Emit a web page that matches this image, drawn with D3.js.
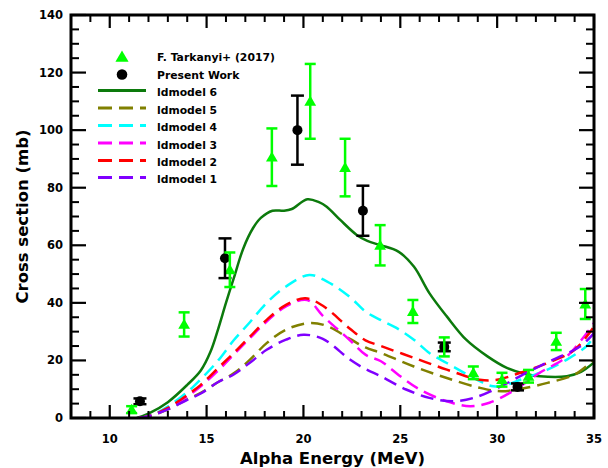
<!DOCTYPE html>
<html>
<head>
<meta charset="utf-8">
<script src="https://cdn.jsdelivr.net/npm/d3@7"></script>
<style>
  html, body { margin: 0; padding: 0; background: #fff; }
  svg { display: block; font-family: "DejaVu Sans", sans-serif; font-weight: bold; }
</style>
</head>
<body>
<div id="chart"></div>
<script>
// F. Tarkanyi+ (2017)
const tarkE   = [11.13, 13.84, 16.2, 18.37, 20.35, 22.15, 23.96, 25.65, 27.27, 28.77, 30.25, 31.62, 33.05, 34.55];
const tarkY   = [2.9, 32.5, 51.5, 90.6, 110, 87, 60, 37, 24.7, 15.7, 13.3, 14.5, 26.6, 39.6];
const tarkErr = [1.2, 4.2, 6, 10, 13, 10, 7, 4, 3.3, 2.2, 2.4, 2.2, 3, 5.2];

// Present Work
const presE   = [11.56, 15.95, 19.69, 23.07, 27.27, 31.05];
const presY   = [5.8, 55.5, 100, 72, 24.7, 10.8];
const presErr = [1, 6.9, 12, 8.7, 1.5, 1.2];

// model curves [energy, cross section]
const ld6 = [[11.4,0],[12,1.5],[13,5.5],[14,11.5],[14.7,16.5],[15.2,23],[15.6,31],[16,40],[16.4,48.5],[16.9,59],
  [17.4,66],[17.8,69.5],[18.4,72],[19,72],[19.4,72.6],[20.2,76],[20.8,75],[21.2,73.4],[21.9,68.8],[22.75,63.6],[23.3,61.5],
  [24,60],[24.9,57.8],[25.7,52.6],[26.5,43.4],[27.4,35.3],[28.4,27.2],[29.5,21.4],[30.5,17.4],[31.4,15.4],
  [32.2,14.5],[33.6,14.5],[34.3,15.9],[35,19.3]];
const ld5 = [[11.5,0],[12.1,0.8],[13,3],[14,6.5],[14.7,8.7],[15.6,12.5],[16.4,15.5],[17.2,20],[18.1,26],[19.1,30.7],
  [20.3,33],[21.2,32],[22.4,27.5],[23.2,24.5],[24,22.6],[25.7,17.9],[27.4,13.9],[29.1,10.5],[30.2,9.3],[31.2,10.1],
  [32.6,12.2],[34,15.1],[35,20.3]];
const ld4 = [[11.5,0],[12.1,0.8],[13,4],[14,9],[14.7,13.5],[15.6,20],[16.4,27],[17.2,33],[18.1,40],[19.1,45.7],
  [20.3,49.7],[21.2,47.5],[22.4,42],[23.2,37],[24,34],[24.8,31.3],[25.7,27.2],[26.5,22.6],[27.4,19.1],[28.3,15.7],
  [29.1,12.8],[29.8,11],[30.5,11.6],[31.2,13.3],[32.6,16.8],[33.6,20.3],[34.6,24.9],[35,28.3]];
const ld3 = [[11.5,0],[12.1,0.8],[13,3.3],[14,7.5],[14.7,11],[15.6,16.5],[16.4,22],[17.2,27.5],[18.1,33.5],[19.1,38.8],
  [20.2,41],[21,35.5],[22.4,27],[23.2,22],[24,19.7],[25,14.5],[26,9.9],[27.4,5.8],[28.6,4.1],[29.6,5.3],[30.8,9.3],
  [32.2,15.7],[33.6,21.4],[35,33]];
const ld2 = [[11.5,0],[12.1,0.8],[13,3.5],[14,8],[14.7,11.5],[15.6,17.4],[16.4,22.6],[17.2,28],[18.1,34.1],[19.1,39.3],
  [20.1,41.6],[21,39],[22.4,31],[23.2,27],[24,25],[25.7,20.9],[27.4,16.8],[29.1,13.3],[30,13.3],[31.2,15.7],
  [32.6,19.1],[34,23.7],[35,31.8]];
const ld1 = [[11.5,0],[12.1,0.8],[13,3],[14,6.3],[14.7,8.5],[15.6,12.5],[16.4,15.1],[17.2,19],[18.1,23.7],[19.1,27.2],
  [20,28.9],[21,27.5],[22.4,20.3],[23.2,17],[24,14.5],[25.3,9.9],[26.5,7],[27.7,5.8],[28.8,7],[30.2,11],[31.5,15.7],
  [32.9,20.3],[34.3,24.9],[35,29.5]];

const modelNames  = ['ldmodel 6', 'ldmodel 5', 'ldmodel 4', 'ldmodel 3', 'ldmodel 2', 'ldmodel 1'];
const modelData   = [ld6, ld5, ld4, ld3, ld2, ld1];
const modelColors = ['#0c7a0c', '#808000', '#00ffff', '#ff00ff', '#ff0000', '#8000ff'];

const xTicks = [10, 15, 20, 25, 30, 35];
const yTicks = [0, 20, 40, 60, 80, 100, 120, 140];

(function(){
  const width = 608, height = 468;
  const margin = {top: 15, right: 14, bottom: 50, left: 71};
  const iw = width - margin.left - margin.right;
  const ih = height - margin.top - margin.bottom;

  const svg = d3.select('#chart').append('svg')
    .attr('width', width).attr('height', height);

  const x = d3.scaleLinear().domain([8, 35]).range([margin.left, margin.left + iw]);
  const y = d3.scaleLinear().domain([0, 140]).range([margin.top + ih, margin.top]);

  svg.append('defs').append('clipPath').attr('id', 'plot-clip')
    .append('rect').attr('x', margin.left).attr('y', margin.top).attr('width', iw).attr('height', ih);

  const plot = svg.append('g').attr('clip-path', 'url(#plot-clip)');

  // model curves (drawn 6 -> 1)
  const line = d3.line().x(d => x(d[0])).y(d => y(d[1])).curve(d3.curveCatmullRom.alpha(0.5));
  modelData.forEach((data, i) => {
    plot.append('path').datum(data)
      .attr('d', line)
      .attr('fill', 'none')
      .attr('stroke', modelColors[i])
      .attr('stroke-width', 2.5)
      .attr('stroke-dasharray', i === 0 ? null : '13,7');
  });

  const tri = d3.symbol().type(d3.symbolTriangle).size(60);
  const capW = 5.5;

  function errBars(g, E, Y, err, color, cap) {
    E.forEach((e, i) => {
      const cx = x(e), y0 = y(Y[i] - err[i]), y1 = y(Y[i] + err[i]);
      g.append('line').attr('x1', cx).attr('x2', cx).attr('y1', y0).attr('y2', y1)
        .attr('stroke', color).attr('stroke-width', 2.5);
      [y0, y1].forEach(yy => g.append('line')
        .attr('x1', cx - cap).attr('x2', cx + cap).attr('y1', yy).attr('y2', yy)
        .attr('stroke', color).attr('stroke-width', 2.5));
    });
  }

  // Tarkanyi markers
  plot.append('g').selectAll('path').data(tarkE).join('path')
    .attr('d', tri)
    .attr('transform', (d, i) => `translate(${x(d)},${y(tarkY[i]) + 1})`)
    .attr('fill', '#00ff00');

  // present work
  const pg = plot.append('g');
  errBars(pg, presE, presY, presErr, '#000', 6.5);
  pg.selectAll('circle').data(presE).join('circle')
    .attr('cx', d => x(d)).attr('cy', (d, i) => y(presY[i])).attr('r', 5)
    .attr('fill', '#000');

  errBars(plot.append('g'), tarkE, tarkY, tarkErr, '#00ff00', capW);

  // axes frame with inward ticks
  const axes = svg.append('g');
  const minorX = d3.range(9, 35, 1).filter(v => v % 5 !== 0);
  const minorY = d3.range(5, 140, 5).filter(v => v % 20 !== 0);
  const bot = margin.top + ih, top = margin.top, lft = margin.left, rgt = margin.left + iw;

  function tick(x1, y1, x2, y2, w) {
    axes.append('line').attr('x1', x1).attr('y1', y1).attr('x2', x2).attr('y2', y2)
      .attr('stroke', '#000').attr('stroke-width', w);
  }
  xTicks.forEach(v => { tick(x(v), bot, x(v), bot - 13, 2.2); tick(x(v), top, x(v), top + 13, 2.2); });
  minorX.forEach(v => { tick(x(v), bot, x(v), bot - 7, 2); tick(x(v), top, x(v), top + 7, 2); });
  yTicks.forEach(v => { tick(lft, y(v), lft + 15, y(v), 2.2); tick(rgt, y(v), rgt - 15, y(v), 2.2); });
  minorY.forEach(v => { tick(lft, y(v), lft + 8, y(v), 2); tick(rgt, y(v), rgt - 8, y(v), 2); });

  axes.append('rect').attr('x', lft).attr('y', top).attr('width', iw).attr('height', ih)
    .attr('fill', 'none').attr('stroke', '#000').attr('stroke-width', 3);

  // tick labels
  svg.append('g').selectAll('text').data(xTicks).join('text')
    .attr('x', d => x(d)).attr('y', bot + 25)
    .attr('text-anchor', 'middle').attr('font-size', 11.5).text(d => d);
  svg.append('g').selectAll('text').data(yTicks).join('text')
    .attr('x', lft - 8).attr('y', d => y(d) + 4)
    .attr('text-anchor', 'end').attr('font-size', 11.5).text(d => d);

  // axis titles
  svg.append('text').attr('x', (lft + rgt) / 2).attr('y', 464)
    .attr('text-anchor', 'middle').attr('font-size', 16.5).text('Alpha Energy (MeV)');
  svg.append('text').attr('transform', `translate(28,${(top + bot) / 2}) rotate(-90)`)
    .attr('text-anchor', 'middle').attr('font-size', 16.5).text('Cross section (mb)');

  // legend
  const lg = svg.append('g');
  const rowY = [57, 74.5, 92, 109.5, 127, 144.5, 162, 179];
  const lx0 = 98, lx1 = 146, tx = 157;
  lg.append('path').attr('d', d3.symbol().type(d3.symbolTriangle).size(75))
    .attr('transform', `translate(122,${rowY[0] + 1})`).attr('fill', '#00ff00');
  lg.append('text').attr('x', tx).attr('y', rowY[0] + 4).attr('font-size', 10.8).text('F. Tarkanyi+ (2017)');
  lg.append('circle').attr('cx', 122).attr('cy', rowY[1]).attr('r', 5.3).attr('fill', '#000');
  lg.append('text').attr('x', tx).attr('y', rowY[1] + 4).attr('font-size', 10.8).text('Present Work');
  modelNames.forEach((name, i) => {
    const yy = rowY[i + 2] - 1.5;
    lg.append('line').attr('x1', lx0).attr('x2', lx1).attr('y1', yy).attr('y2', yy)
      .attr('stroke', modelColors[i]).attr('stroke-width', 2.8)
      .attr('stroke-dasharray', i === 0 ? null : '14,7');
    lg.append('text').attr('x', tx).attr('y', rowY[i + 2] + 4).attr('font-size', 10.8).text(name);
  });
})();
</script>
</body>
</html>
